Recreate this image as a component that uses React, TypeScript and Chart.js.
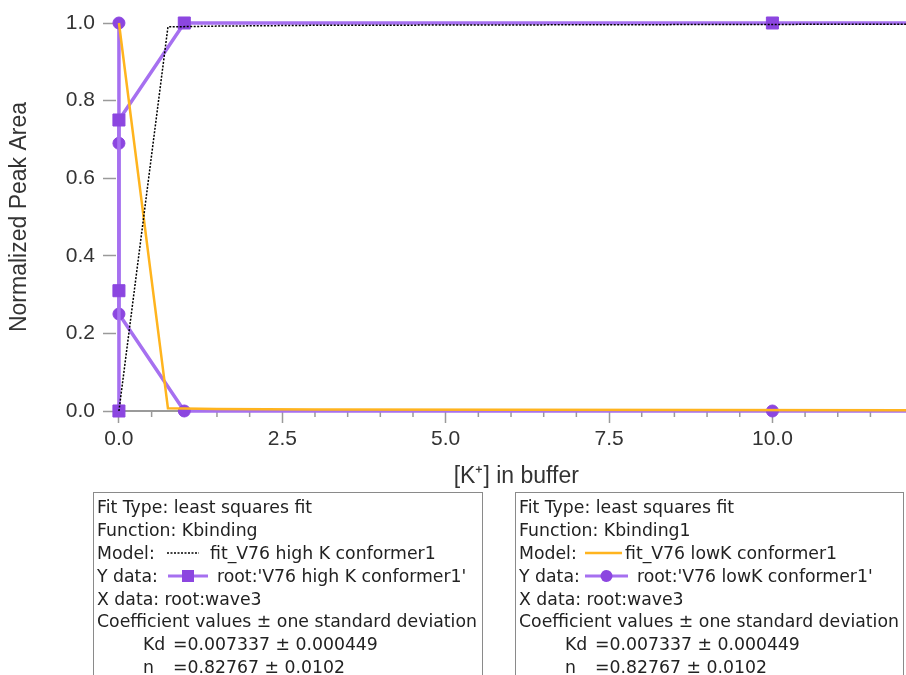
import React, { useEffect, useRef } from "react";
import { Chart, registerables } from "chart.js";

Chart.register(...registerables);

// ---- data ----
const HIGH_K_X = [0, 0, 0, 1, 10, 150];
const HIGH_K_Y = [0.0, 0.31, 0.75, 1.0, 1.0, 1.0];
const LOW_K_X = [0, 0, 0, 1, 10, 150];
const LOW_K_Y = [1.0, 0.69, 0.25, 0.0, 0.0, 0.0];
const FIT_X = [0, 0.75, 1.5, 3, 6, 12, 150];
const FIT_HIGH_Y = [0.0, 0.99, 0.992, 0.994, 0.995, 0.997, 0.998];
const FIT_LOW_Y = [1.0, 0.007, 0.005, 0.004, 0.003, 0.002, 0.001];
const X_MAJOR_TICKS = [0, 2.5, 5, 7.5, 10];
const X_MINOR_TICKS = [0.5, 1, 1.5, 2, 3, 3.5, 4, 4.5, 5.5, 6, 6.5, 7, 8, 8.5, 9, 9.5, 10.5, 11, 11.5];
const Y_TICKS = [0, 0.2, 0.4, 0.6, 0.8, 1.0];

const X_TITLE = "[K\u207A] in buffer";
const Y_TITLE = "Normalized Peak Area";

const LEGEND_HIGH = [
  "Fit Type: least squares fit",
  "Function: Kbinding",
  "fit_V76 high K conformer1",
  "root:'V76 high K conformer1'",
  "X data: root:wave3",
  "Coefficient values \u00B1 one standard deviation",
  "=0.007337 \u00B1 0.000449",
  "=0.82767 \u00B1 0.0102",
];
const LEGEND_LOW = [
  "Fit Type: least squares fit",
  "Function: Kbinding1",
  "fit_V76 lowK conformer1",
  "root:'V76 lowK conformer1'",
  "X data: root:wave3",
  "Coefficient values \u00B1 one standard deviation",
  "=0.007337 \u00B1 0.000449",
  "=0.82767 \u00B1 0.0102",
];

// ---- styles ----
const PURPLE_LINE = "#a670f0";
const PURPLE_MARK = "#8c46e0";
const ORANGE = "#ffb41e";
const AXIS = "#9a9a9a";
const TEXT = "#333333";
const AX_FONT = { family: "'Liberation Sans', Arial, sans-serif", size: 21 };
const TITLE_FONT = { family: "'Liberation Sans', Arial, sans-serif", size: 23 };
const CANVAS_W = 926;

const pts = (xs: number[], ys: number[]) => xs.map((x, i) => ({ x, y: ys[i] }));

const minorTicks = {
  id: "minorTicks",
  beforeDatasetsDraw(chart: any) {
    const xs = chart.scales.x;
    const { bottom, right } = chart.chartArea;
    const ctx = chart.ctx;
    ctx.save();
    ctx.strokeStyle = AXIS;
    ctx.lineWidth = 1.5;
    X_MINOR_TICKS.forEach((v) => {
      const px = xs.getPixelForValue(v);
      if (px > right) return;
      ctx.beginPath();
      ctx.moveTo(px, bottom);
      ctx.lineTo(px, bottom + 6);
      ctx.stroke();
    });
    ctx.restore();
  },
};

function ChartCanvas() {
  const ref = useRef<HTMLCanvasElement | null>(null);
  useEffect(() => {
    if (!ref.current) return;
    const chart = new Chart(ref.current, {
      type: "line",
      data: {
        datasets: [
          {
            label: "fit_V76 high K conformer1",
            data: pts(FIT_X, FIT_HIGH_Y),
            borderColor: "#000000",
            borderWidth: 1.5,
            borderDash: [2, 1.5],
            pointRadius: 0,
            order: 0,
            clip: false as any,
          },
          {
            label: "fit_V76 lowK conformer1",
            data: pts(FIT_X, FIT_LOW_Y),
            borderColor: ORANGE,
            borderWidth: 2.5,
            pointRadius: 0,
            order: 1,
            clip: false as any,
          },
          {
            label: "V76 high K conformer1",
            data: pts(HIGH_K_X, HIGH_K_Y),
            borderColor: PURPLE_LINE,
            borderWidth: 3.5,
            pointStyle: "rect",
            pointRadius: 8.5,
            pointBackgroundColor: PURPLE_MARK,
            pointBorderColor: PURPLE_MARK,
            pointBorderWidth: 1,
            order: 2,
            clip: false as any,
          },
          {
            label: "V76 lowK conformer1",
            data: pts(LOW_K_X, LOW_K_Y),
            borderColor: PURPLE_LINE,
            borderWidth: 3.5,
            pointStyle: "circle",
            pointRadius: 6,
            pointBackgroundColor: PURPLE_MARK,
            pointBorderColor: PURPLE_MARK,
            pointBorderWidth: 1,
            order: 3,
            clip: false as any,
          },
        ],
      },
      options: {
        animation: false,
        responsive: false,
        maintainAspectRatio: false,
        layout: { padding: { top: 23, right: 0, bottom: 0, left: 0 } },
        plugins: { legend: { display: false }, tooltip: { enabled: false } },
        elements: { line: { tension: 0 } },
        scales: {
          x: {
            type: "linear",
            min: -0.045,
            max: 12.205,
            afterBuildTicks: (s: any) => {
              s.ticks = X_MAJOR_TICKS.map((v) => ({ value: v }));
            },
            afterFit: (s: any) => {
              s.height = 89;
            },
            grid: {
              drawOnChartArea: false,
              drawTicks: true,
              tickLength: 12,
              tickColor: AXIS,
              tickWidth: 1.5,
            },
            border: { display: true, color: AXIS, width: 2 },
            ticks: {
              font: AX_FONT,
              color: TEXT,
              padding: 4,
              maxRotation: 0,
              autoSkip: false,
              includeBounds: false,
              callback: (v: any) => Number(v).toFixed(1),
            },
            title: {
              display: true,
              text: X_TITLE,
              font: TITLE_FONT,
              color: TEXT,
              padding: { top: 0, bottom: 10 },
            },
          },
          y: {
            type: "linear",
            min: 0,
            max: 1,
            afterBuildTicks: (s: any) => {
              s.ticks = Y_TICKS.map((v) => ({ value: v }));
            },
            afterFit: (s: any) => {
              s.width = 116;
            },
            grid: {
              drawOnChartArea: false,
              drawTicks: true,
              tickLength: 13,
              tickColor: AXIS,
              tickWidth: 1.5,
            },
            border: { display: false },
            ticks: {
              font: AX_FONT,
              color: TEXT,
              padding: 8,
              includeBounds: false,
              callback: (v: any) => Number(v).toFixed(1),
            },
            title: {
              display: true,
              text: Y_TITLE,
              font: TITLE_FONT,
              color: TEXT,
              padding: { top: 6, bottom: 0 },
            },
          },
        },
      } as any,
      plugins: [minorTicks],
    });
    return () => chart.destroy();
  }, []);
  return (
    <canvas
      ref={ref}
      width={CANVAS_W}
      height={500}
      style={{ position: "absolute", left: 0, top: 0, width: CANVAS_W, height: 500 }}
    />
  );
}

const LINE_H = 22.9;

function IconDotted() {
  return (
    <svg width="32" height="14" style={{ display: "block" }}>
      <line x1="0" y1="7" x2="32" y2="7" stroke="#000" strokeWidth="1.5" strokeDasharray="2 1.5" />
    </svg>
  );
}
function IconOrange() {
  return (
    <svg width="37" height="14" style={{ display: "block" }}>
      <line x1="0" y1="7" x2="37" y2="7" stroke={ORANGE} strokeWidth="2.5" />
    </svg>
  );
}
function IconSquare() {
  return (
    <svg width="40" height="14" style={{ display: "block" }}>
      <line x1="0" y1="7" x2="40" y2="7" stroke={PURPLE_LINE} strokeWidth="3" />
      <rect x="14" y="1" width="12" height="12" fill={PURPLE_MARK} />
    </svg>
  );
}
function IconCircle() {
  return (
    <svg width="43" height="14" style={{ display: "block" }}>
      <line x1="0" y1="7" x2="43" y2="7" stroke={PURPLE_LINE} strokeWidth="3" />
      <circle cx="21.5" cy="7" r="6" fill={PURPLE_MARK} />
    </svg>
  );
}

type BoxProps = {
  left: number;
  width: number;
  lines: string[];
  modelIcon: React.ReactNode;
  modelIconX: number;
  modelTextX: number;
  yIcon: React.ReactNode;
  yIconX: number;
  yTextX: number;
};

function LegendBox(p: BoxProps) {
  const row = (i: number, children: React.ReactNode) => (
    <div key={i} style={{ position: "relative", height: LINE_H, lineHeight: LINE_H + "px", whiteSpace: "nowrap" }}>
      {children}
    </div>
  );
  const abs = (x: number, c: React.ReactNode) => (
    <span style={{ position: "absolute", left: x, top: 0 }}>{c}</span>
  );
  const iconAbs = (x: number, c: React.ReactNode) => (
    <span style={{ position: "absolute", left: x, top: (LINE_H - 14) / 2 }}>{c}</span>
  );
  return (
    <div
      style={{
        position: "absolute",
        left: p.left,
        top: 492,
        width: p.width,
        height: 220,
        border: "1.5px solid #8a8a8a",
        boxSizing: "border-box",
        paddingTop: 3,
        fontFamily: "'DejaVu Sans', Verdana, sans-serif",
        fontSize: 17.3,
        color: "#222",
      }}
    >
      {row(0, abs(3, p.lines[0]))}
      {row(1, abs(3, p.lines[1]))}
      {row(2, <>{abs(3, "Model:")}{iconAbs(p.modelIconX, p.modelIcon)}{abs(p.modelTextX, p.lines[2])}</>)}
      {row(3, <>{abs(3, "Y data:")}{iconAbs(p.yIconX, p.yIcon)}{abs(p.yTextX, p.lines[3])}</>)}
      {row(4, abs(3, p.lines[4]))}
      {row(5, abs(3, p.lines[5]))}
      {row(6, <>{abs(49, "Kd")}{abs(79, p.lines[6])}</>)}
      {row(7, <>{abs(49, "n")}{abs(79, p.lines[7])}</>)}
    </div>
  );
}

export default function App() {
  return (
    <div
      style={{
        position: "absolute",
        left: 0,
        top: 0,
        width: 906,
        height: 675,
        overflow: "hidden",
        background: "#ffffff",
      }}
    >
      <ChartCanvas />
      <LegendBox
        left={93}
        width={390}
        lines={LEGEND_HIGH}
        modelIcon={<IconDotted />}
        modelIconX={73}
        modelTextX={116}
        yIcon={<IconSquare />}
        yIconX={74}
        yTextX={123}
      />
      <LegendBox
        left={515}
        width={389}
        lines={LEGEND_LOW}
        modelIcon={<IconOrange />}
        modelIconX={69}
        modelTextX={109}
        yIcon={<IconCircle />}
        yIconX={69}
        yTextX={121}
      />
    </div>
  );
}
